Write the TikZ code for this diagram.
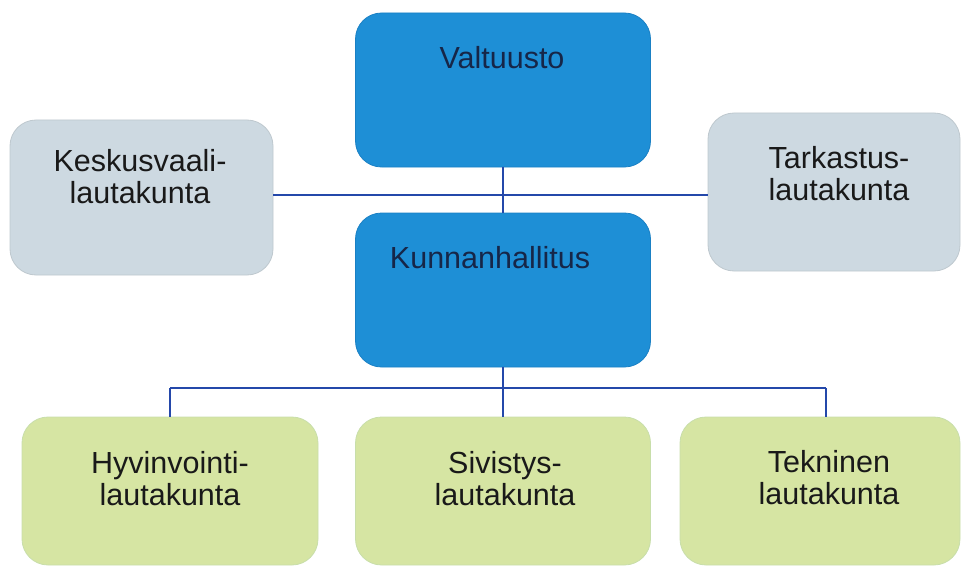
\documentclass[tikz,border=0pt]{standalone}
\usepackage{fontspec}
\setmainfont{Liberation Sans}
\definecolor{bluebox}{RGB}{30,143,214}
\definecolor{blueedge}{RGB}{26,128,196}
\definecolor{graybox}{RGB}{205,217,225}
\definecolor{grayedge}{RGB}{190,200,206}
\definecolor{greenbox}{RGB}{214,229,163}
\definecolor{greenedge}{RGB}{200,222,170}
\definecolor{linkblue}{RGB}{36,72,170}
\definecolor{navytext}{RGB}{22,38,72}
\definecolor{darktext}{RGB}{25,25,25}
\begin{document}
\begin{tikzpicture}[x=1pt,y=-1pt,
  box/.style={rounded corners=26pt, line width=0.8pt, inner sep=0pt, outer sep=0pt},
  bluenode/.style={box, fill=bluebox, draw=blueedge},
  graynode/.style={box, fill=graybox, draw=grayedge},
  greennode/.style={box, fill=greenbox, draw=greenedge},
  lbl/.style={font=\fontsize{30.5}{32}\selectfont, align=center, inner sep=0pt, text=darktext},
  bluelbl/.style={lbl, text=navytext},
  link/.style={draw=linkblue, line width=1.6pt}]
\useasboundingbox (0,0) rectangle (961,567);
% boxes
\node[bluenode, minimum width=295pt, minimum height=154pt] (va) at (503,90) {};
\node[bluenode, minimum width=295pt, minimum height=154pt] (kh) at (503,290) {};
\node[graynode, minimum width=263pt, minimum height=155pt] (ks) at (141.5,197.5) {};
\node[graynode, minimum width=252pt, minimum height=158pt] (ta) at (834,192) {};
\node[greennode, minimum width=296pt, minimum height=148pt] (hy) at (170,491) {};
\node[greennode, minimum width=295pt, minimum height=148pt] (sv) at (503,491) {};
\node[greennode, minimum width=280pt, minimum height=148pt] (te) at (820,491) {};
% labels
\node[bluelbl] (tva) at (502,58) {Valtuusto};
\node[bluelbl] (tkh) at (490,258) {Kunnanhallitus};
\node[lbl] (tks) at (140,177) {Keskusvaali-\\lautakunta};
\node[lbl] (tta) at (839,174) {Tarkastus-\\lautakunta};
\node[lbl] (thy) at (170,479) {Hyvinvointi-\\lautakunta};
\node[lbl] (tsv) at (505,479) {Sivistys-\\lautakunta};
\node[lbl] (tte) at (829,478) {Tekninen\\lautakunta};
% connectors
\coordinate (mid) at (503,195);
\coordinate (hl) at (170,388);
\coordinate (hr) at (826,388);
\draw[link] (va.south) -- (kh.north);
\draw[link] (ks.east |- mid) -- (ta.west |- mid);
\draw[link] (kh.south) -- (sv.north);
\draw[link] (hl) -- (hr);
\draw[link] (hl) -- (hy.north);
\draw[link] (hr) -- (hr |- te.north);
\end{tikzpicture}
\end{document}
